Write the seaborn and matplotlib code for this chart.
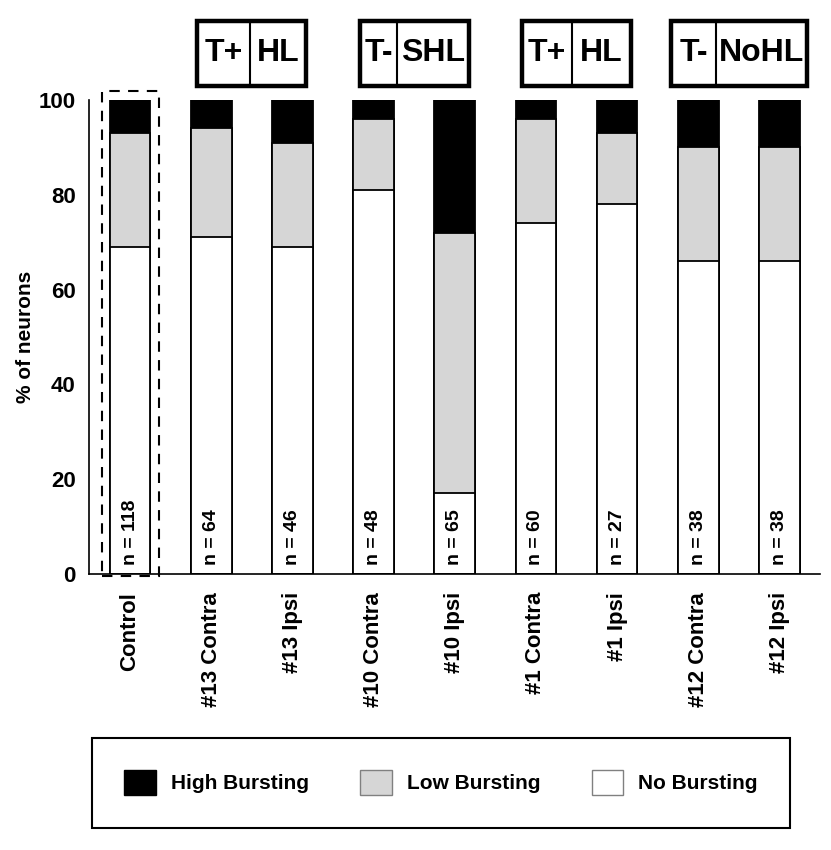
import matplotlib
matplotlib.use('Agg')
import matplotlib.pyplot as plt
from matplotlib.patches import Rectangle, Patch
import seaborn as sns
import pandas as pd

sns.set_style("white")
plt.rcParams['font.family'] = ['Liberation Sans', 'DejaVu Sans']
plt.rcParams['font.weight'] = 'bold'
for key in ['text.color', 'axes.labelcolor', 'xtick.color', 'ytick.color',
            'axes.edgecolor']:
    plt.rcParams[key] = 'black'

# data (% of neurons)
groups = ['Control', '#13 Contra', '#13 Ipsi', '#10 Contra', '#10 Ipsi',
          '#1 Contra', '#1 Ipsi', '#12 Contra', '#12 Ipsi']
no_bursting = [69, 71, 69, 81, 17, 74, 78, 66, 66]
low_bursting = [24, 23, 22, 15, 55, 22, 15, 24, 24]
high_bursting = [7, 6, 9, 4, 28, 4, 7, 10, 10]
n_neurons = [118, 64, 46, 48, 65, 60, 27, 38, 38]

# header boxes above pairs of bars: (left text, right text)
header_labels = [('T+', 'HL'), ('T-', 'SHL'), ('T+', 'HL'), ('T-', 'NoHL')]
legend_labels = ['High Bursting', 'Low Bursting', 'No Bursting']

GREY = '#d6d6d6'

df = pd.DataFrame({'group': groups, 'no': no_bursting,
                   'low': low_bursting, 'high': high_bursting})
df['no_low'] = df['no'] + df['low']
df['total'] = df['no_low'] + df['high']

fig = plt.figure(figsize=(8.31, 8.5), dpi=100)
ax = fig.add_axes([0.1077, 0.3247, 0.8791, 0.5577])

# stacked bars: draw tallest first, then overlay
for col, color in [('total', 'black'), ('no_low', GREY), ('no', 'white')]:
    sns.barplot(data=df, x='group', y=col, order=groups, color=color,
                saturation=1, width=0.5, edgecolor='black', linewidth=1.3,
                ax=ax)

ax.set_xlim(-0.5, len(groups) - 0.5)
ax.set_ylim(0, 100)
ax.set_yticks([0, 20, 40, 60, 80, 100])
ax.set_xlabel('')
ax.set_ylabel('% of neurons', fontsize=15, fontweight='bold')
ax.yaxis.set_label_coords(-0.075, 0.5)

ax.set_xticks(range(len(groups)))
ax.set_xticklabels(groups, rotation=90, fontsize=16, fontweight='bold')
ax.set_xticks([i - 0.5 for i in range(len(groups) + 1)], minor=True)
ax.tick_params(axis='x', which='major', length=0, pad=13)
ax.tick_params(axis='x', which='minor', length=5, width=1.1, direction='out')
ax.tick_params(axis='y', length=5, width=1.1, direction='out', pad=5,
               labelsize=16)
for lab in ax.get_yticklabels():
    lab.set_fontweight('bold')

sns.despine(ax=ax)
for s in ['left', 'bottom']:
    ax.spines[s].set_linewidth(1.2)

# n labels inside bars
for i, n in enumerate(n_neurons):
    ax.text(i, 2, f'n = {n}', rotation=90, ha='center', va='bottom',
            fontsize=14, fontweight='bold')

# dashed box around control
ax.add_patch(Rectangle((-0.34, -0.4), 0.70, 102.3, fill=False,
                       edgecolor='black', linewidth=1.5,
                       linestyle=(0, (5, 4)), clip_on=False))

# header boxes: center, width, divider offset (data units)
box_specs = [(1.5, 1.34, 0.65), (3.5, 1.34, 0.46),
             (5.5, 1.35, 0.62), (7.5, 1.67, 0.55)]
y0, h = 103.0, 13.7
for (cx, w, d), (lt, rt) in zip(box_specs, header_labels):
    x0 = cx - w / 2
    ax.add_patch(Rectangle((x0, y0), w, h, facecolor='white',
                           edgecolor='black', linewidth=3.2, clip_on=False))
    ax.plot([x0 + d, x0 + d], [y0, y0 + h], color='black', lw=1.5,
            clip_on=False)
    ax.text(x0 + d / 2, y0 + h / 2, lt, ha='center', va='center',
            fontsize=23, fontweight='bold')
    ax.text(x0 + d + (w - d) / 2, y0 + h / 2, rt, ha='center', va='center',
            fontsize=23, fontweight='bold')

handles = [Patch(facecolor='black', edgecolor='black'),
           Patch(facecolor=GREY, edgecolor='#808080'),
           Patch(facecolor='white', edgecolor='#808080')]
leg = fig.legend(handles, legend_labels, loc='center', ncol=3, mode='expand',
                 bbox_to_anchor=(92 / 831, 1 - 831 / 850, 698 / 831, 97 / 850),
                 borderaxespad=0, borderpad=1.55, handlelength=1.5,
                 handleheight=1.5, handletextpad=0.72, frameon=True,
                 fancybox=False, edgecolor='black', framealpha=1,
                 prop={'size': 15, 'weight': 'bold'})
leg.get_frame().set_linewidth(1.5)

fig.savefig('out.png', dpi=100)
plt.close(fig)
